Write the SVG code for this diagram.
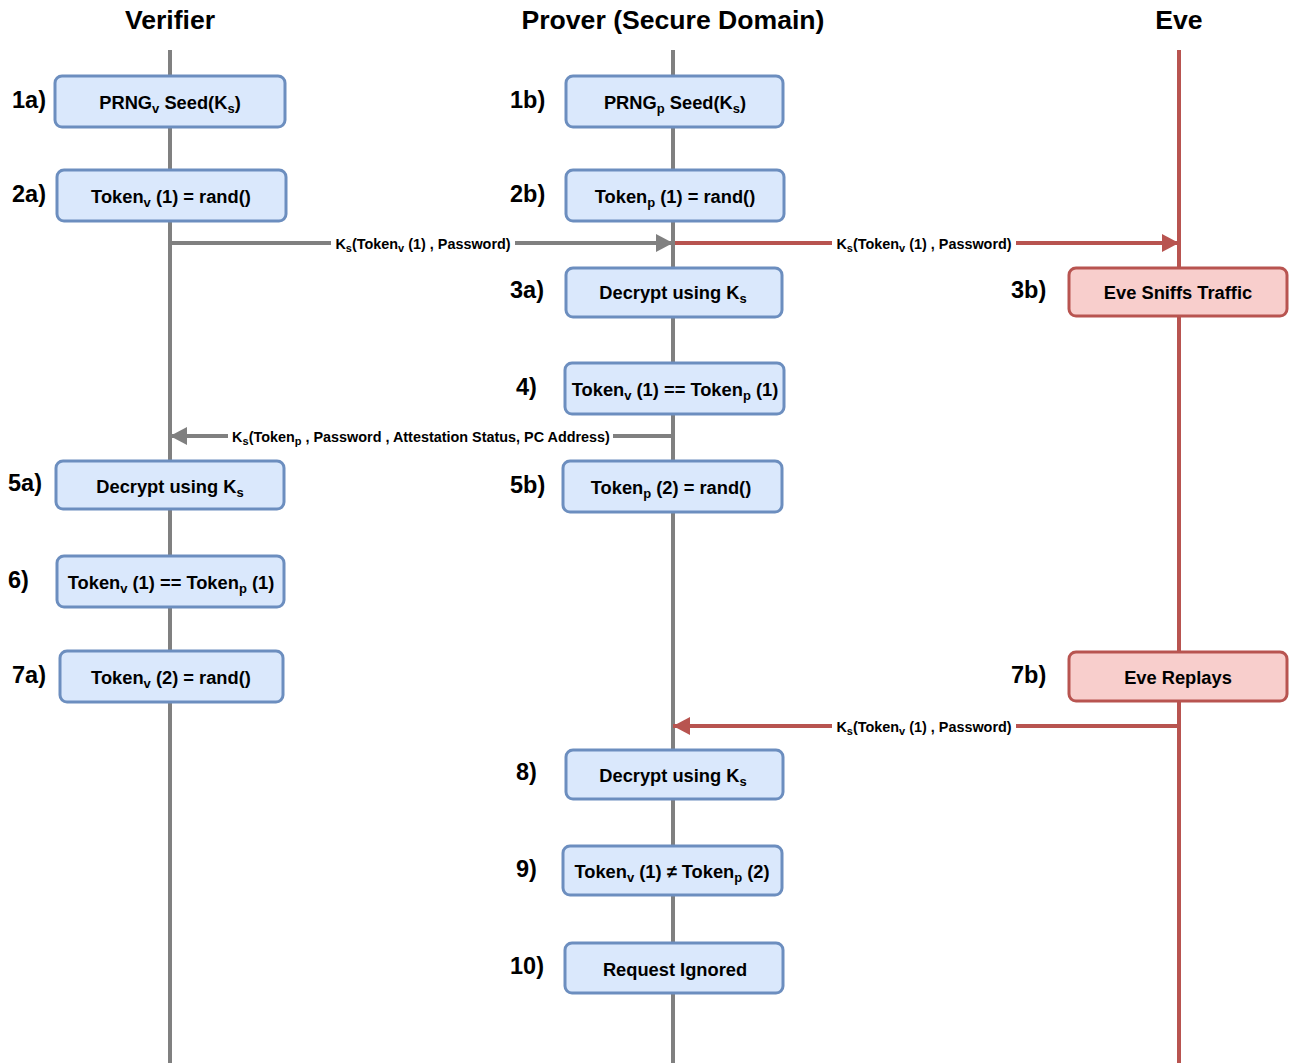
<svg xmlns="http://www.w3.org/2000/svg" width="1289" height="1063" viewBox="0 0 1289 1063">
  <style>
    .life-g { stroke: #808080; stroke-width: 4; fill: none; }
    .life-r { stroke: #b85450; stroke-width: 4; fill: none; }
    .box { fill: #dae8fc; stroke: #6c8ebf; stroke-width: 3; }
    .box-r { fill: #f8cecc; stroke: #b85450; stroke-width: 3; }
    .head { font-family: "Liberation Sans", Arial, sans-serif; font-weight: bold; font-size: 26.6px; text-anchor: middle; fill: #000; }
    .step { font-family: "Liberation Sans", Arial, sans-serif; font-weight: bold; font-size: 23.5px; fill: #000; }
    .lbl { font-family: "Liberation Sans", Arial, sans-serif; font-weight: bold; font-size: 18.3px; text-anchor: middle; fill: #000; }
    .msg { font-family: "Liberation Sans", Arial, sans-serif; font-weight: bold; font-size: 14.4px; text-anchor: middle; fill: #000; }
    .sub { font-size: 13px; }
    .msub { font-size: 11px; }
    .arr-g { stroke: #808080; stroke-width: 4; fill: none; }
    .arr-r { stroke: #b85450; stroke-width: 4; fill: none; }
  </style>
  <defs>
    <marker id="head-g" markerUnits="userSpaceOnUse" markerWidth="18" markerHeight="18" refX="17" refY="9" orient="auto">
      <path d="M0,0 L17,9 L0,18 Z" fill="#808080"/>
    </marker>
    <marker id="head-r" markerUnits="userSpaceOnUse" markerWidth="18" markerHeight="18" refX="17" refY="9" orient="auto">
      <path d="M0,0 L17,9 L0,18 Z" fill="#b85450"/>
    </marker>
  </defs>

  <!-- lifeline headers -->
  <text class="head" x="170" y="29">Verifier</text>
  <text class="head" x="673" y="29">Prover (Secure Domain)</text>
  <text class="head" x="1179" y="29">Eve</text>

  <!-- lifelines -->
  <g id="lifelines">
    <line class="life-g" x1="170" y1="50" x2="170" y2="1063"/>
    <line class="life-g" x1="673" y1="50" x2="673" y2="1063"/>
    <line class="life-r" x1="1179" y1="50" x2="1179" y2="1063"/>
  </g>

  <!-- messages -->
  <g id="connectors">
    <line class="arr-g" x1="170" y1="243" x2="673" y2="243" marker-end="url(#head-g)"/>
    <line class="arr-r" x1="675" y1="243" x2="1179" y2="243" marker-end="url(#head-r)"/>
    <line class="arr-g" x1="673" y1="436" x2="170" y2="436" marker-end="url(#head-g)"/>
    <line class="arr-r" x1="1179" y1="726" x2="673" y2="726" marker-end="url(#head-r)"/>

    <rect x="331" y="234" width="184" height="18" fill="#fff"/>
    <text class="msg" x="423" y="249">K<tspan class="msub" dy="3">s</tspan><tspan dy="-3">(Token</tspan><tspan class="msub" dy="3">v</tspan><tspan dy="-3"> (1) , Password)</tspan></text>

    <rect x="832" y="234" width="184" height="18" fill="#fff"/>
    <text class="msg" x="924" y="249">K<tspan class="msub" dy="3">s</tspan><tspan dy="-3">(Token</tspan><tspan class="msub" dy="3">v</tspan><tspan dy="-3"> (1) , Password)</tspan></text>

    <rect x="228" y="427" width="385" height="18" fill="#fff"/>
    <text class="msg" x="421" y="442">K<tspan class="msub" dy="3">s</tspan><tspan dy="-3">(Token</tspan><tspan class="msub" dy="3">p</tspan><tspan dy="-3"> , Password , Attestation Status, PC Address)</tspan></text>

    <rect x="832" y="717" width="184" height="18" fill="#fff"/>
    <text class="msg" x="924" y="732">K<tspan class="msub" dy="3">s</tspan><tspan dy="-3">(Token</tspan><tspan class="msub" dy="3">v</tspan><tspan dy="-3"> (1) , Password)</tspan></text>
  </g>

  <!-- Verifier steps -->
  <g id="step-1a">
    <rect class="box" x="55" y="76" width="230" height="51" rx="7"/>
    <text class="lbl" x="170" y="109">PRNG<tspan class="sub" dy="4">v</tspan><tspan dy="-4"> Seed(K</tspan><tspan class="sub" dy="4">s</tspan><tspan dy="-4">)</tspan></text>
    <text class="step" x="12" y="108">1a)</text>
  </g>
  <g id="step-2a">
    <rect class="box" x="57" y="170" width="229" height="51" rx="7"/>
    <text class="lbl" x="171" y="203">Token<tspan class="sub" dy="4">v</tspan><tspan dy="-4"> (1) = rand()</tspan></text>
    <text class="step" x="12" y="202">2a)</text>
  </g>
  <g id="step-5a">
    <rect class="box" x="56" y="461" width="228" height="48" rx="7"/>
    <text class="lbl" x="170" y="493">Decrypt using K<tspan class="sub" dy="4">s</tspan></text>
    <text class="step" x="8" y="491">5a)</text>
  </g>
  <g id="step-6">
    <rect class="box" x="57" y="556" width="227" height="51" rx="7"/>
    <text class="lbl" x="171" y="589">Token<tspan class="sub" dy="4">v</tspan><tspan dy="-4"> (1) == Token</tspan><tspan class="sub" dy="4">p</tspan><tspan dy="-4"> (1)</tspan></text>
    <text class="step" x="8" y="588">6)</text>
  </g>
  <g id="step-7a">
    <rect class="box" x="60" y="651" width="223" height="51" rx="7"/>
    <text class="lbl" x="171" y="684">Token<tspan class="sub" dy="4">v</tspan><tspan dy="-4"> (2) = rand()</tspan></text>
    <text class="step" x="12" y="683">7a)</text>
  </g>

  <!-- Prover steps -->
  <g id="step-1b">
    <rect class="box" x="566" y="76" width="217" height="51" rx="7"/>
    <text class="lbl" x="675" y="109">PRNG<tspan class="sub" dy="4">p</tspan><tspan dy="-4"> Seed(K</tspan><tspan class="sub" dy="4">s</tspan><tspan dy="-4">)</tspan></text>
    <text class="step" x="510" y="108">1b)</text>
  </g>
  <g id="step-2b">
    <rect class="box" x="566" y="170" width="218" height="51" rx="7"/>
    <text class="lbl" x="675" y="203">Token<tspan class="sub" dy="4">p</tspan><tspan dy="-4"> (1) = rand()</tspan></text>
    <text class="step" x="510" y="202">2b)</text>
  </g>
  <g id="step-3a">
    <rect class="box" x="566" y="268" width="216" height="49" rx="7"/>
    <text class="lbl" x="673" y="299">Decrypt using K<tspan class="sub" dy="4">s</tspan></text>
    <text class="step" x="510" y="298">3a)</text>
  </g>
  <g id="step-4">
    <rect class="box" x="565" y="363" width="219" height="51" rx="7"/>
    <text class="lbl" x="675" y="396">Token<tspan class="sub" dy="4">v</tspan><tspan dy="-4"> (1) == Token</tspan><tspan class="sub" dy="4">p</tspan><tspan dy="-4"> (1)</tspan></text>
    <text class="step" x="516" y="395">4)</text>
  </g>
  <g id="step-5b">
    <rect class="box" x="563" y="461" width="219" height="51" rx="7"/>
    <text class="lbl" x="671" y="494">Token<tspan class="sub" dy="4">p</tspan><tspan dy="-4"> (2) = rand()</tspan></text>
    <text class="step" x="510" y="493">5b)</text>
  </g>
  <g id="step-8">
    <rect class="box" x="566" y="750" width="217" height="49" rx="7"/>
    <text class="lbl" x="673" y="782">Decrypt using K<tspan class="sub" dy="4">s</tspan></text>
    <text class="step" x="516" y="780">8)</text>
  </g>
  <g id="step-9">
    <rect class="box" x="563" y="846" width="219" height="49" rx="7"/>
    <text class="lbl" x="672" y="878">Token<tspan class="sub" dy="4">v</tspan><tspan dy="-4"> (1) ≠ Token</tspan><tspan class="sub" dy="4">p</tspan><tspan dy="-4"> (2)</tspan></text>
    <text class="step" x="516" y="877">9)</text>
  </g>
  <g id="step-10">
    <rect class="box" x="565" y="943" width="218" height="50" rx="7"/>
    <text class="lbl" x="675" y="976">Request Ignored</text>
    <text class="step" x="510" y="974">10)</text>
  </g>

  <!-- Eve steps -->
  <g id="step-3b">
    <rect class="box-r" x="1069" y="268" width="218" height="48" rx="7"/>
    <text class="lbl" x="1178" y="299">Eve Sniffs Traffic</text>
    <text class="step" x="1011" y="298">3b)</text>
  </g>
  <g id="step-7b">
    <rect class="box-r" x="1069" y="652" width="218" height="49" rx="7"/>
    <text class="lbl" x="1178" y="684">Eve Replays</text>
    <text class="step" x="1011" y="683">7b)</text>
  </g>
</svg>
